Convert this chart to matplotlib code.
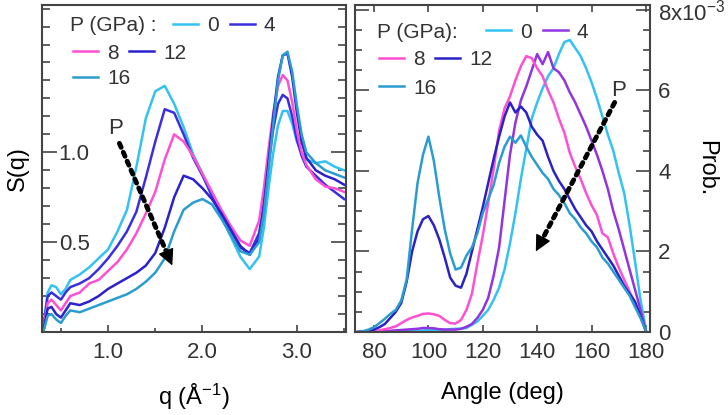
import matplotlib.pyplot as plt
from matplotlib.ticker import MultipleLocator, FixedLocator, FuncFormatter

plt.rcParams['font.family'] = ['Liberation Sans', 'DejaVu Sans']
plt.rcParams['mathtext.default'] = 'regular'
plt.rcParams['text.color'] = '#333333'
plt.rcParams['xtick.color'] = '#444444'
plt.rcParams['ytick.color'] = '#444444'
plt.rcParams['xtick.labelcolor'] = '#333333'
plt.rcParams['ytick.labelcolor'] = '#333333'

# ---- left panel: structure factor S(q) ----
q = [0.32, 0.36, 0.40, 0.45, 0.50, 0.55, 0.60, 0.70, 0.80, 0.90, 1.00, 1.10,
     1.20, 1.30, 1.40, 1.50, 1.60, 1.70, 1.80, 1.90, 2.00, 2.10, 2.20, 2.30,
     2.40, 2.50, 2.60, 2.65, 2.70, 2.75, 2.80, 2.85, 2.90, 2.95, 3.00, 3.05,
     3.10, 3.20, 3.30, 3.40, 3.50]
sq_0 = [0.06, 0.22, 0.26, 0.25, 0.21, 0.24, 0.29, 0.32, 0.36, 0.41, 0.46, 0.56,
        0.68, 0.92, 1.19, 1.34, 1.37, 1.27, 1.14, 0.99, 0.88, 0.75, 0.64, 0.53,
        0.42, 0.35, 0.42, 0.58, 0.80, 1.00, 1.15, 1.23, 1.23, 1.16, 1.06, 1.00,
        0.96, 0.94, 0.95, 0.92, 0.90]
sq_4 = [0.04, 0.20, 0.22, 0.20, 0.18, 0.22, 0.25, 0.27, 0.30, 0.35, 0.41, 0.48,
        0.56, 0.67, 0.86, 1.06, 1.24, 1.22, 1.10, 0.97, 0.87, 0.76, 0.65, 0.56,
        0.47, 0.44, 0.55, 0.72, 0.94, 1.13, 1.27, 1.32, 1.30, 1.20, 1.07, 0.98,
        0.92, 0.87, 0.82, 0.78, 0.74]
sq_8 = [0.03, 0.16, 0.18, 0.15, 0.12, 0.16, 0.20, 0.22, 0.27, 0.29, 0.34, 0.39,
        0.46, 0.55, 0.66, 0.78, 0.96, 1.10, 1.06, 0.98, 0.88, 0.78, 0.68, 0.59,
        0.51, 0.48, 0.62, 0.80, 1.02, 1.22, 1.37, 1.43, 1.40, 1.28, 1.12, 1.00,
        0.93, 0.85, 0.81, 0.80, 0.78]
sq_12 = [0.02, 0.13, 0.14, 0.10, 0.08, 0.12, 0.16, 0.15, 0.17, 0.20, 0.24, 0.27,
         0.30, 0.33, 0.37, 0.44, 0.58, 0.75, 0.87, 0.85, 0.80, 0.74, 0.66, 0.57,
         0.48, 0.43, 0.52, 0.70, 0.95, 1.20, 1.42, 1.54, 1.55, 1.42, 1.22, 1.06,
         0.97, 0.90, 0.87, 0.85, 0.82]
sq_16 = [0.01, 0.09, 0.10, 0.07, 0.05, 0.09, 0.12, 0.11, 0.13, 0.15, 0.17, 0.19,
         0.21, 0.24, 0.28, 0.33, 0.41, 0.56, 0.68, 0.72, 0.74, 0.71, 0.63, 0.54,
         0.45, 0.43, 0.50, 0.66, 0.90, 1.16, 1.40, 1.54, 1.56, 1.45, 1.26, 1.10,
         1.00, 0.94, 0.90, 0.88, 0.86]

# ---- right panel: bond angle distribution (units of 1e-3) ----
angle = list(range(74, 181, 2))
prob_0 = [0, 0, 0, 0, 0, 0.01, 0.01, 0.02, 0.02, 0.03, 0.03, 0.03, 0.04, 0.05,
          0.05, 0.05, 0.06, 0.07, 0.08, 0.08, 0.10, 0.18, 0.26, 0.40, 0.55, 0.80,
          1.10, 1.55, 2.20, 2.95, 3.80, 4.55, 5.30, 5.70, 6.05, 6.35, 6.55, 6.90,
          7.20, 7.25, 7.05, 6.85, 6.55, 6.20, 5.80, 5.35, 4.90, 4.50, 3.95, 3.45,
          2.65, 1.75, 0.80, 0.05]
prob_4 = [0, 0, 0, 0, 0.01, 0.02, 0.03, 0.04, 0.05, 0.06, 0.07, 0.08, 0.10, 0.10,
          0.09, 0.07, 0.06, 0.06, 0.06, 0.08, 0.13, 0.20, 0.35, 0.55, 0.85, 1.40,
          2.10, 3.25, 4.40, 5.20, 5.75, 6.10, 6.50, 6.90, 6.65, 6.95, 6.55, 6.45,
          6.25, 5.95, 5.70, 5.40, 5.10, 4.75, 4.40, 4.00, 3.55, 3.00, 2.55, 2.05,
          1.55, 1.05, 0.55, 0.02]
prob_8 = [0, 0, 0.01, 0.02, 0.04, 0.07, 0.10, 0.14, 0.22, 0.30, 0.36, 0.40, 0.45,
          0.46, 0.44, 0.40, 0.30, 0.22, 0.21, 0.30, 0.55, 0.95, 1.70, 2.40, 3.20,
          4.05, 5.00, 5.55, 5.85, 6.25, 6.60, 6.85, 6.80, 6.55, 6.35, 6.00, 5.70,
          5.30, 4.95, 4.45, 4.10, 3.80, 3.45, 3.15, 2.90, 2.45, 2.35, 1.95, 1.60,
          1.30, 1.00, 0.72, 0.40, 0.02]
prob_12 = [0, 0.01, 0.03, 0.06, 0.12, 0.20, 0.35, 0.50, 0.72, 1.25, 2.00, 2.50,
           2.80, 2.88, 2.65, 2.30, 1.85, 1.35, 1.15, 1.10, 1.45, 2.00, 2.55, 3.10,
           3.70, 4.30, 4.85, 5.35, 5.70, 5.45, 5.60, 5.45, 5.10, 4.90, 4.75, 4.35,
           4.00, 3.75, 3.55, 3.30, 3.05, 2.85, 2.65, 2.50, 2.25, 2.05, 1.85, 1.65,
           1.40, 1.15, 0.95, 0.75, 0.40, 0.02]
prob_16 = [0, 0.02, 0.06, 0.12, 0.22, 0.33, 0.45, 0.55, 0.78, 1.30, 2.55, 3.70,
           4.40, 4.85, 4.25, 3.35, 2.55, 1.95, 1.55, 1.60, 1.90, 2.10, 2.45, 2.95,
           3.30, 3.65, 4.20, 4.60, 4.85, 4.70, 4.88, 4.60, 4.35, 4.15, 3.95, 3.80,
           3.55, 3.40, 3.20, 2.95, 2.80, 2.60, 2.45, 2.25, 2.10, 1.85, 1.70, 1.50,
           1.30, 1.10, 0.90, 0.62, 0.35, 0.02]

pressures = ['0', '4', '8', '12', '16']
colors_left = ['#33c2f2', '#3a2fe0', '#ff4fd2', '#2b22cc', '#2a9ccf']
colors_right = ['#33c2f2', '#9234e0', '#ff4fd2', '#2b22c4', '#2a9ccf']

fs = 16
lw = 1.8


def dotted_arrow(ax, start, end, frac=0.1):
    # dotted shaft plus a solid filled head at the end
    back = (end[0] - frac * (end[0] - start[0]),
            end[1] - frac * (end[1] - start[1]))
    ax.annotate('', xy=back, xytext=start,
                arrowprops=dict(arrowstyle='-', ls=(0, (0.9, 1.1)), lw=3.5,
                                color='black', shrinkA=0, shrinkB=0))
    ax.annotate('', xy=end, xytext=back,
                arrowprops=dict(arrowstyle='-|>,head_length=1.0,head_width=0.5',
                                lw=1, color='black', shrinkA=0, shrinkB=0))


fig = plt.figure(figsize=(7.28, 4.15), dpi=100)
ax1 = fig.add_axes([42 / 728, 83 / 415, 304 / 728, 327 / 415])
ax2 = fig.add_axes([355 / 728, 83 / 415, 295 / 728, 327 / 415])

# left panel
lines1 = []
for s, c in zip([sq_0, sq_4, sq_8, sq_12, sq_16], colors_left):
    l, = ax1.plot(q, s, color=c, lw=lw)
    lines1.append(l)
ax1.set_xlim(0.3, 3.52)
ax1.set_ylim(0, 1.82)
ax1.xaxis.set_major_locator(FixedLocator([1, 2, 3]))
ax1.xaxis.set_minor_locator(FixedLocator([0.5, 1.5, 2.5, 3.5]))
ax1.xaxis.set_major_formatter(FuncFormatter(lambda v, p: '%.1f' % v))
ax1.yaxis.set_major_locator(FixedLocator([0.5, 1.0]))
ax1.yaxis.set_minor_locator(MultipleLocator(0.1))
ax1.yaxis.set_major_formatter(FuncFormatter(lambda v, p: '%.1f' % v))
ax1.tick_params(axis='x', which='major', direction='in', length=5, width=1.2,
                labelsize=fs, pad=7, top=False)
ax1.tick_params(axis='x', which='minor', direction='in', length=3, width=1.2,
                top=False)
ax1.tick_params(axis='y', which='major', direction='in', length=11, width=1.2,
                labelsize=fs, pad=-12, left=True, right=True)
ax1.tick_params(axis='y', which='minor', direction='in', length=6, width=1.2,
                left=True, right=True)
for lab in ax1.get_yticklabels():
    lab.set_horizontalalignment('left')
ax1.set_xlabel('q (Å$^{-1}$)', fontsize=fs + 1, labelpad=14)
ax1.set_ylabel('S(q)', fontsize=fs + 1, labelpad=6)

ax1.text(0.092, 0.936, 'P (GPa) :', transform=ax1.transAxes, fontsize=fs - 1,
         va='center', ha='left')
leg_kw = dict(frameon=False, fontsize=fs - 1, handlelength=1.2,
              handletextpad=0.45, columnspacing=0.5, borderpad=0,
              borderaxespad=0, loc='center left')
legA = ax1.legend([lines1[0], lines1[1]], ['0', '4'], ncol=2,
                  bbox_to_anchor=(0.431, 0.936), **leg_kw)
ax1.add_artist(legA)
legB = ax1.legend([lines1[2], lines1[3]], ['8', '12'], ncol=2,
                  bbox_to_anchor=(0.102, 0.853), **leg_kw)
ax1.add_artist(legB)
ax1.legend([lines1[4]], ['16'], bbox_to_anchor=(0.102, 0.774), **leg_kw)

dotted_arrow(ax1, (1.12, 1.05), (1.68, 0.37))
ax1.text(1.08, 1.13, 'P', fontsize=fs, ha='center', va='center')

# right panel
lines2 = []
for p, c in zip([prob_0, prob_4, prob_8, prob_12, prob_16], colors_right):
    l, = ax2.plot(angle, p, color=c, lw=lw)
    lines2.append(l)
ax2.set_xlim(73, 181.5)
ax2.set_ylim(0, 8.12)
ax2.xaxis.set_major_locator(MultipleLocator(20))
ax2.yaxis.set_major_locator(FixedLocator([0, 2, 4, 6, 8]))
ax2.yaxis.set_minor_locator(MultipleLocator(0.5))
ax2.yaxis.set_major_formatter(
    FuncFormatter(lambda v, p: '8x10$^{-3}$' if v == 8 else '%d' % v))
ax2.tick_params(axis='x', which='major', direction='in', length=5, width=1.2,
                labelsize=fs, pad=7, top=True)
ax2.tick_params(axis='y', which='major', direction='in', length=10, width=1.2,
                labelsize=fs, left=True, right=True, labelleft=False,
                labelright=True, pad=6)
ax2.tick_params(axis='y', which='minor', direction='in', length=5, width=1.2,
                left=True, right=True)
ax2.set_xlabel('Angle (deg)', fontsize=fs + 1, labelpad=14)
ax2.yaxis.set_label_position('right')
ax2.set_ylabel('Prob.', fontsize=fs + 1, rotation=270, va='center')
ax2.yaxis.set_label_coords(1.19, 0.5)

ax2.text(0.075, 0.917, 'P (GPa):', transform=ax2.transAxes, fontsize=fs - 1,
         va='center', ha='left')
legC = ax2.legend([lines2[0], lines2[1]], ['0', '4'], ncol=2,
                  bbox_to_anchor=(0.444, 0.917), **leg_kw)
ax2.add_artist(legC)
legD = ax2.legend([lines2[2], lines2[3]], ['8', '12'], ncol=2,
                  bbox_to_anchor=(0.081, 0.832), **leg_kw)
ax2.add_artist(legD)
ax2.legend([lines2[4]], ['16'], bbox_to_anchor=(0.081, 0.746), **leg_kw)

dotted_arrow(ax2, (168.5, 5.7), (139.5, 2.0))
ax2.text(170, 6.0, 'P', fontsize=fs, ha='center', va='center')

for ax in (ax1, ax2):
    for sp in ax.spines.values():
        sp.set_color('#444444')
        sp.set_linewidth(1.5)

fig.savefig('out.png', dpi=100)
